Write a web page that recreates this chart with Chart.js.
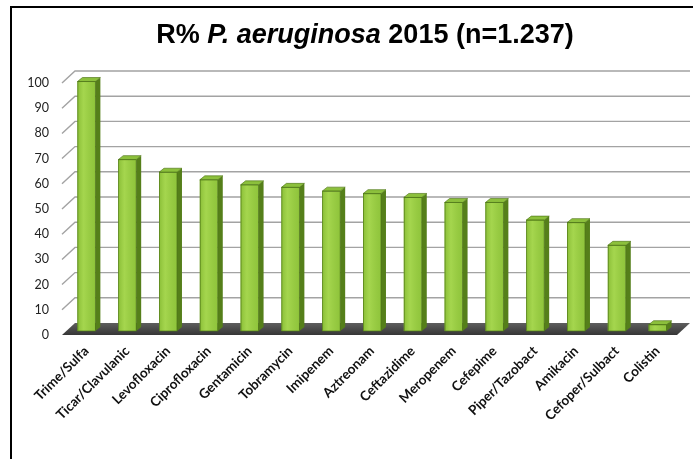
<!DOCTYPE html>
<html>
<head>
<meta charset="utf-8">
<script src="https://cdn.jsdelivr.net/npm/chart.js@4/dist/chart.umd.min.js"></script>
<style>
  html, body { margin: 0; padding: 0; background: #ffffff; }
  #wrap { position: relative; width: 693px; height: 459px; }
</style>
</head>
<body>
<div id="wrap"><canvas id="c" width="693" height="459"></canvas></div>
<script>
const categories = ["Trime/Sulfa", "Ticar/Clavulanic", "Levofloxacin", "Ciprofloxacin", "Gentamicin",
  "Tobramycin", "Imipenem", "Aztreonam", "Ceftazidime", "Meropenem", "Cefepime",
  "Piper/Tazobact", "Amikacin", "Cefoper/Sulbact", "Colistin"];
const resistance = [99, 68, 63, 60, 58, 57, 55.5, 54.5, 53, 51, 51, 44, 43, 34, 2.5];
const yTicks = [0, 10, 20, 30, 40, 50, 60, 70, 80, 90, 100];
const titleParts = [
  { text: "R% ", italic: false },
  { text: "P. aeruginosa", italic: true },
  { text: " 2015 (n=1.237)", italic: false }
];

const DX = 5, DY = 4;          // bar depth
const WALL_DX = 13, WALL_UP = 8, FRONT_DOWN = 4; // floor / wall depth

const threeD = {
  id: 'threeD',
  beforeDraw(chart) {
    const ctx = chart.ctx;
    ctx.save();
    ctx.fillStyle = '#ffffff';
    ctx.fillRect(0, 0, chart.width, chart.height);
    ctx.restore();
  },
  beforeDatasetsDraw(chart) {
    const ctx = chart.ctx, a = chart.chartArea, y = chart.scales.y;
    const L = a.left, R = a.right;
    ctx.save();
    ctx.strokeStyle = '#a3a3a3';
    ctx.lineWidth = 1.4;
    yTicks.forEach(v => {
      if (v === 0) return;
      const p = y.getPixelForValue(v);
      ctx.beginPath();
      ctx.moveTo(L - 4, p + FRONT_DOWN);
      ctx.lineTo(L - 4 + WALL_DX, p - WALL_UP);
      ctx.lineTo(R + 12, p - WALL_UP);
      ctx.stroke();
    });
    const b = y.getPixelForValue(0);
    ctx.beginPath();
    ctx.moveTo(L - 4, b + FRONT_DOWN);
    ctx.lineTo(L - 4 + WALL_DX, b - WALL_UP);
    ctx.lineTo(R + 12, b - WALL_UP);
    ctx.lineTo(R - 1, b + FRONT_DOWN);
    ctx.closePath();
    const fg = ctx.createLinearGradient(0, b - WALL_UP, 0, b + FRONT_DOWN);
    fg.addColorStop(0, '#5e5e5e');
    fg.addColorStop(1, '#363636');
    ctx.fillStyle = fg;
    ctx.fill();
    ctx.restore();
  },
  afterDatasetsDraw(chart) {
    const ctx = chart.ctx;
    const meta = chart.getDatasetMeta(0);
    ctx.save();
    meta.data.forEach(bar => {
      const p = bar.getProps(['x', 'y', 'base', 'width'], true);
      const l = p.x - p.width / 2, r = p.x + p.width / 2, t = p.y, bs = p.base;
      const g = ctx.createLinearGradient(l, 0, r, 0);
      g.addColorStop(0, 'rgba(120,170,40,0.45)');
      g.addColorStop(0.35, 'rgba(190,230,100,0.35)');
      g.addColorStop(1, 'rgba(120,170,40,0.25)');
      ctx.fillStyle = g;
      ctx.fillRect(l, t, r - l, bs - t);
      ctx.beginPath();
      ctx.moveTo(r, t);
      ctx.lineTo(r + DX, t - DY);
      ctx.lineTo(r + DX, bs - DY);
      ctx.lineTo(r, bs);
      ctx.closePath();
      ctx.fillStyle = '#557f1a';
      ctx.fill();
      ctx.beginPath();
      ctx.moveTo(l, t);
      ctx.lineTo(l + DX, t - DY);
      ctx.lineTo(r + DX, t - DY);
      ctx.lineTo(r, t);
      ctx.closePath();
      ctx.fillStyle = '#8cc03c';
      ctx.fill();
      ctx.strokeStyle = 'rgba(75,115,20,0.8)';
      ctx.lineWidth = 0.8;
      ctx.stroke();
      ctx.strokeRect(l + 0.4, t, r - l - 0.4, bs - t);
    });
    ctx.restore();
  },
  afterDraw(chart) {
    const ctx = chart.ctx;
    ctx.save();
    ctx.strokeStyle = '#000000';
    ctx.lineWidth = 2;
    ctx.beginPath();
    ctx.moveTo(11, chart.height + 2);
    ctx.lineTo(11, 7);
    ctx.lineTo(chart.width + 2, 7);
    ctx.stroke();
    const size = 27;
    const fontOf = it => (it ? 'italic ' : '') + 'bold ' + size + 'px "Liberation Sans", Arial, sans-serif';
    let total = 0;
    titleParts.forEach(pt => { ctx.font = fontOf(pt.italic); total += ctx.measureText(pt.text).width; });
    let x = 365 - total / 2;
    ctx.fillStyle = '#000000';
    ctx.textBaseline = 'alphabetic';
    ctx.textAlign = 'left';
    titleParts.forEach(pt => {
      ctx.font = fontOf(pt.italic);
      ctx.fillText(pt.text, x, 43);
      x += ctx.measureText(pt.text).width;
    });
    ctx.restore();
  }
};

new Chart(document.getElementById('c'), {
  type: 'bar',
  data: {
    labels: categories,
    datasets: [{
      data: resistance,
      backgroundColor: '#97cd42',
      borderWidth: 0,
      barPercentage: 0.44,
      categoryPercentage: 1.0
    }]
  },
  options: {
    responsive: false,
    animation: false,
    devicePixelRatio: 1,
    layout: { padding: { left: 0, right: 15, top: 79, bottom: 0 } },
    plugins: { legend: { display: false }, tooltip: { enabled: false }, title: { display: false } },
    scales: {
      x: {
        grid: { display: false, drawTicks: false },
        border: { display: false },
        afterFit: s => { s.height = 128; },
        ticks: {
          autoSkip: false,
          maxRotation: 45,
          minRotation: 45,
          padding: 12,
          color: '#111111',
          font: { family: 'Lato, "Open Sans", sans-serif', size: 13.5, weight: 'bold' }
        }
      },
      y: {
        min: 0,
        max: 100,
        afterFit: s => { s.width = 66; },
        afterBuildTicks: s => { s.ticks = yTicks.map(v => ({ value: v })); },
        grid: { display: false, drawTicks: false },
        border: { display: false },
        ticks: {
          stepSize: 10,
          padding: 17,
          labelOffset: 4,
          color: '#222222',
          font: { family: 'Lato, "Open Sans", sans-serif', size: 12.5 }
        }
      }
    }
  },
  plugins: [threeD]
});
</script>
</body>
</html>
